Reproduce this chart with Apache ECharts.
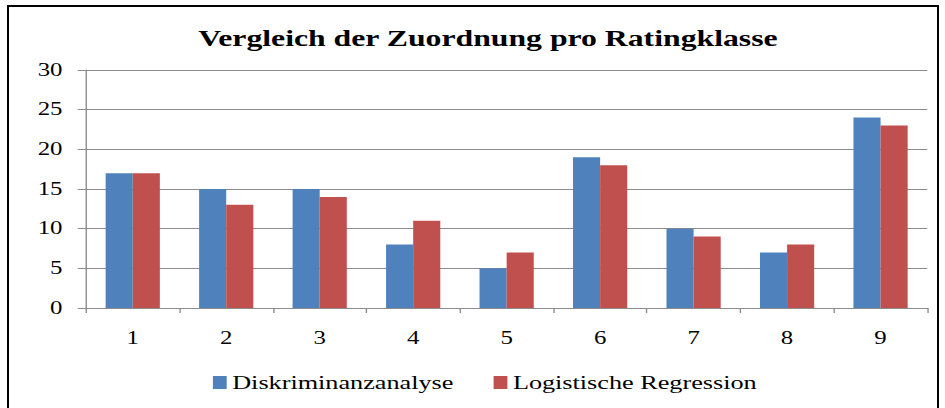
<!DOCTYPE html>
<html>
<head>
<meta charset="utf-8">
<script src="https://cdn.jsdelivr.net/npm/echarts@6/dist/echarts.min.js"></script>
<style>
  html, body { margin: 0; padding: 0; background: #fff; overflow: hidden; }
  #frame { position: absolute; left: 7px; top: 5px; width: 932px; height: 410px; border: 2px solid #000; box-sizing: border-box; }
  /* die Vorlage ist horizontal gestreckt -> Chart schmal rendern und per CSS strecken */
  #chart { position: absolute; left: 0; top: 0; width: 685px; height: 408px; transform: scaleX(1.38); transform-origin: 0 0; }
</style>
</head>
<body>
<div id="frame"></div>
<div id="chart"></div>
<script>
// Ratingklassen
var categories = ['1', '2', '3', '4', '5', '6', '7', '8', '9']
// Werte
var diskriminanz = [17, 15, 15, 8, 5, 19, 10, 7, 24]
var logistisch = [17, 13, 14, 11, 7, 18, 9, 8, 23]
var yTicks = [0, 5, 10, 15, 20, 25, 30]

var serif = '"Liberation Serif", "Times New Roman", serif'
var sx = 1.38

var chart = echarts.init(document.getElementById('chart'), null, { renderer: 'svg' })
var option = {
  animation: false,
  title: {
    text: 'Vergleich der Zuordnung pro Ratingklasse',
    left: 481 / sx,
    textAlign: 'center',
    top: 22,
    textStyle: { fontFamily: serif, fontWeight: 'bold', fontSize: 23, color: '#000' }
  },
  legend: {
    bottom: 11,
    left: 206 / sx,
    itemWidth: 10,
    itemHeight: 13,
    itemGap: 29,
    icon: 'rect',
    textStyle: { fontFamily: serif, fontSize: 19, color: '#000', padding: [0, 0, 0, -1] },
    data: ['Diskriminanzanalyse', 'Logistische Regression']
  },
  grid: { left: 86 / sx, right: 18 / sx, top: 70, bottom: 100, containLabel: false },
  xAxis: {
    type: 'category',
    data: categories,
    axisLine: { lineStyle: { color: '#8c8c8c', width: 1 } },
    axisTick: { show: true, length: 5, lineStyle: { color: '#8c8c8c' } },
    axisLabel: { fontFamily: serif, fontSize: 18, color: '#000', margin: 21 }
  },
  yAxis: {
    type: 'value',
    min: yTicks[0],
    max: yTicks[yTicks.length - 1],
    interval: 5,
    axisLine: { show: true, lineStyle: { color: '#8c8c8c' } },
    axisTick: { show: true, length: 6, lineStyle: { color: '#8c8c8c' } },
    axisLabel: { fontFamily: serif, fontSize: 18, color: '#000', margin: 17 },
    splitLine: { lineStyle: { color: '#8c8c8c', width: 1 } }
  },
  series: [
    {
      name: 'Diskriminanzanalyse',
      type: 'bar',
      data: diskriminanz,
      barGap: '0%',
      barCategoryGap: '42%',
      itemStyle: { color: '#4f81bd' }
    },
    {
      name: 'Logistische Regression',
      type: 'bar',
      data: logistisch,
      itemStyle: { color: '#c0504d' }
    }
  ]
}
chart.setOption(option)
</script>
</body>
</html>
